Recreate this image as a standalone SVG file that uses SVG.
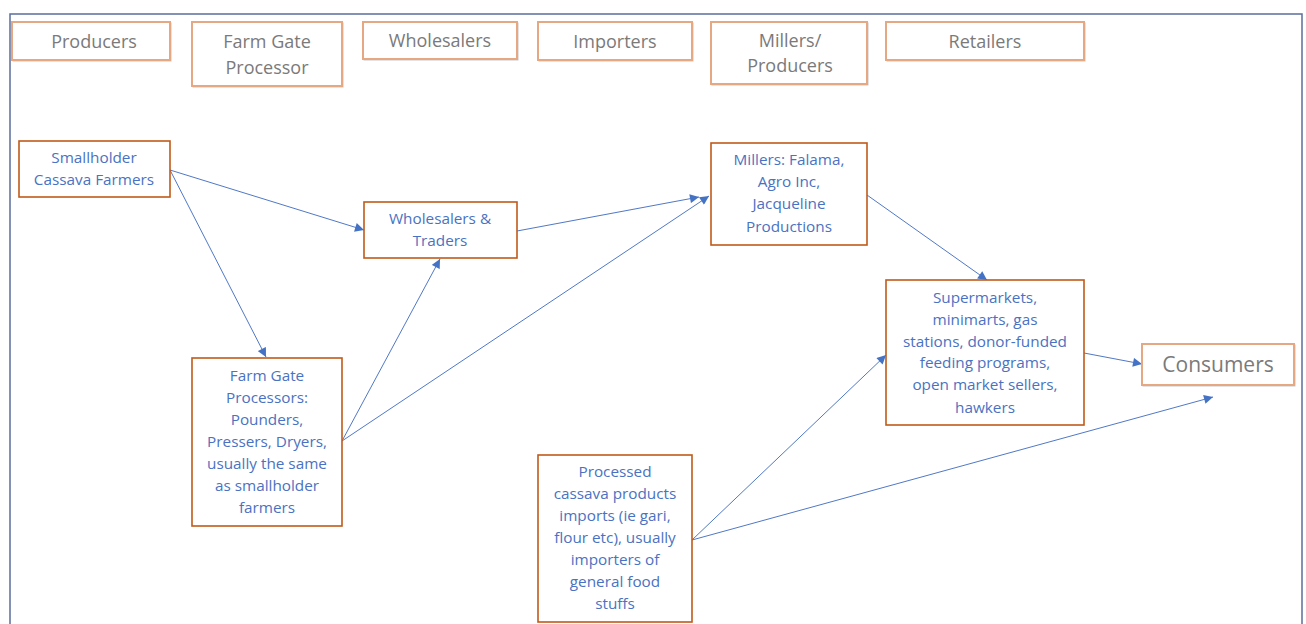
<svg xmlns="http://www.w3.org/2000/svg" width="1306" height="624" viewBox="0 0 1306 624">
<style>
.frame{fill:#fff;stroke:#5b6f9c;stroke-width:1.5}
.hdr{fill:#fff;stroke:#e6a883;stroke-width:2}
.hsh{fill:none;stroke:#c8c8c8;stroke-width:1}
.htx{font-family:"Open Sans","Liberation Sans",sans-serif;font-size:18px;fill:#7a7a7a;text-anchor:middle}
.nd{fill:#fff;stroke:#c05a1a;stroke-width:1.6}
.ntx{font-family:"Open Sans","Liberation Sans",sans-serif;font-size:15.3px;fill:#4a72c2;text-anchor:middle}
.cn{stroke:#5078c6;stroke-width:1;fill:none;marker-end:url(#ah)}
</style>
<defs>
<marker id="ah" viewBox="0 0 10 10" refX="10" refY="5" markerWidth="10" markerHeight="9" markerUnits="userSpaceOnUse" orient="auto">
<path d="M0,0 L10,5 L0,10 z" fill="#4472c4"/>
</marker>
</defs>
<rect x="0" y="0" width="1306" height="624" fill="#fff"/>
<rect class="frame" x="10" y="14" width="1292" height="620"/>

<g id="hdr-producers"><rect class="hsh" x="13" y="23" width="158" height="38"/><rect class="hdr" x="12" y="22" width="158" height="38"/><text class="htx" x="94" y="48">Producers</text></g>
<g id="hdr-farmgate"><rect class="hsh" x="193" y="23" width="150" height="64"/><rect class="hdr" x="192" y="22" width="150" height="64"/><text class="htx" x="267" y="48">Farm Gate</text><text class="htx" x="267" y="74">Processor</text></g>
<g id="hdr-wholesalers"><rect class="hsh" x="364" y="23" width="154" height="37"/><rect class="hdr" x="363" y="22" width="154" height="37"/><text class="htx" x="440" y="47">Wholesalers</text></g>
<g id="hdr-importers"><rect class="hsh" x="539" y="23" width="154" height="38"/><rect class="hdr" x="538" y="22" width="154" height="38"/><text class="htx" x="615" y="48">Importers</text></g>
<g id="hdr-millers"><rect class="hsh" x="712" y="23" width="156" height="62"/><rect class="hdr" x="711" y="22" width="156" height="62"/><text class="htx" x="790" y="47">Millers/</text><text class="htx" x="790" y="72">Producers</text></g>
<g id="hdr-retailers"><rect class="hsh" x="887" y="23" width="198" height="38"/><rect class="hdr" x="886" y="22" width="198" height="38"/><text class="htx" x="985" y="48">Retailers</text></g>

<g id="connectors">
<line class="cn" x1="170" y1="170" x2="364" y2="230"/>
<line class="cn" x1="170" y1="170" x2="266" y2="357"/>
<line class="cn" x1="342" y1="441" x2="440" y2="259"/>
<line class="cn" x1="342" y1="441" x2="709" y2="196"/>
<line class="cn" x1="517" y1="231" x2="699" y2="197"/>
<line class="cn" x1="867" y1="195" x2="987" y2="280"/>
<line class="cn" x1="692" y1="540" x2="886" y2="355"/>
<line class="cn" x1="692" y1="540" x2="1213" y2="397"/>
<line class="cn" x1="1084" y1="353" x2="1142" y2="364"/>
</g>

<g id="n-smallholder"><rect class="nd" x="19" y="141" width="151" height="56"/><text class="ntx" x="94" y="163">Smallholder</text><text class="ntx" x="94" y="185">Cassava Farmers</text></g>
<g id="n-wholesalers"><rect class="nd" x="364" y="202" width="153" height="56"/><text class="ntx" x="440" y="224">Wholesalers &amp;</text><text class="ntx" x="440" y="246">Traders</text></g>
<g id="n-millers"><rect class="nd" x="711" y="143" width="156" height="102"/><text class="ntx" x="789" y="165">Millers: Falama,</text><text class="ntx" x="789" y="187">Agro Inc,</text><text class="ntx" x="789" y="209">Jacqueline</text><text class="ntx" x="789" y="232">Productions</text></g>
<g id="n-farmgate"><rect class="nd" x="192" y="358" width="150" height="168"/><text class="ntx" x="267" y="381">Farm Gate</text><text class="ntx" x="267" y="403">Processors:</text><text class="ntx" x="267" y="425">Pounders,</text><text class="ntx" x="267" y="447">Pressers, Dryers,</text><text class="ntx" x="267" y="469">usually the same</text><text class="ntx" x="267" y="491">as smallholder</text><text class="ntx" x="267" y="513">farmers</text></g>
<g id="n-retail"><rect class="nd" x="886" y="280" width="198" height="145"/><text class="ntx" x="985" y="303">Supermarkets,</text><text class="ntx" x="985" y="325">minimarts, gas</text><text class="ntx" x="985" y="347">stations, donor-funded</text><text class="ntx" x="985" y="368">feeding programs,</text><text class="ntx" x="985" y="390">open market sellers,</text><text class="ntx" x="985" y="413">hawkers</text></g>
<g id="n-imports"><rect class="nd" x="538" y="455" width="154" height="167"/><text class="ntx" x="615" y="477">Processed</text><text class="ntx" x="615" y="499">cassava products</text><text class="ntx" x="615" y="521">imports (ie gari,</text><text class="ntx" x="615" y="543">flour etc), usually</text><text class="ntx" x="615" y="565">importers of</text><text class="ntx" x="615" y="587">general food</text><text class="ntx" x="615" y="609">stuffs</text></g>
<g id="n-consumers"><rect class="hsh" x="1143" y="345" width="152" height="41"/><rect class="hdr" x="1142" y="344" width="152" height="41"/><text class="htx" x="1218" y="372" style="font-size:21px">Consumers</text></g>
</svg>
